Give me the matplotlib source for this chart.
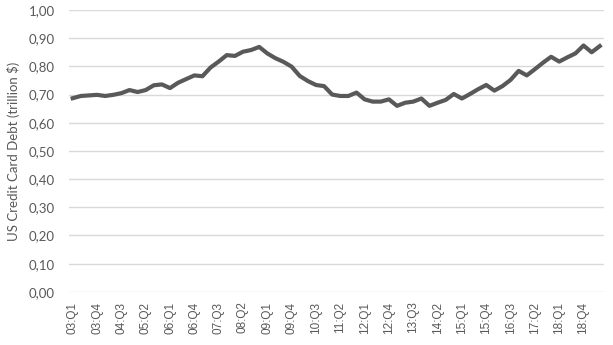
import numpy as np
import matplotlib.pyplot as plt

# quarterly US credit card debt, 2003 Q1 .. 2019 Q2 (trillion $)
years = list(range(3, 20))
quarters = [f"{y:02d}:Q{q}" for y in years for q in range(1, 5)][:66]

debt = [0.687, 0.695, 0.697, 0.699, 0.695, 0.699, 0.705, 0.716, 0.709, 0.716,
        0.733, 0.736, 0.723, 0.742, 0.755, 0.768, 0.765, 0.796, 0.817, 0.840,
        0.837, 0.852, 0.858, 0.869, 0.846, 0.829, 0.816, 0.799, 0.766, 0.748,
        0.734, 0.730, 0.700, 0.695, 0.695, 0.707, 0.683, 0.675, 0.675, 0.683,
        0.660, 0.671, 0.675, 0.686, 0.660, 0.671, 0.681, 0.702, 0.686, 0.702,
        0.719, 0.734, 0.714, 0.730, 0.752, 0.784, 0.768, 0.790, 0.813, 0.834,
        0.817, 0.832, 0.846, 0.874, 0.850, 0.872]

yticks = np.arange(0, 1.01, 0.1)
ytick_labels = [f"{v:.2f}".replace(".", ",") for v in yticks]

fig = plt.figure(figsize=(6.13, 3.45), dpi=100)
ax = fig.add_axes([0.112, 0.154, 0.873, 0.817])

x = np.arange(len(debt))
ax.plot(x, debt, color="#595959", linewidth=3, solid_joinstyle="round")

ax.set_xlim(-0.5, len(debt) - 0.5)
ax.set_ylim(0, 1.0)
ax.set_yticks(yticks)
ax.set_yticklabels(ytick_labels, fontfamily="Lato", fontsize=9.5, color="#595959")
ax.set_xticks(x[::3])
ax.set_xticklabels(quarters[::3], rotation=90, fontfamily="Liberation Sans",
                   fontsize=8.5, color="#595959")
ax.tick_params(axis="both", length=0)
ax.tick_params(axis="y", pad=10)
ax.tick_params(axis="x", pad=7)

ax.grid(axis="y", color="#d9d9d9", linewidth=1)
ax.set_axisbelow(True)
for s in ax.spines.values():
    s.set_visible(False)

ax.set_ylabel("US Credit Card Debt (trillion $)", fontfamily="Lato", fontsize=9.5,
              color="#595959", labelpad=6)

fig.savefig("out.png", dpi=100)
